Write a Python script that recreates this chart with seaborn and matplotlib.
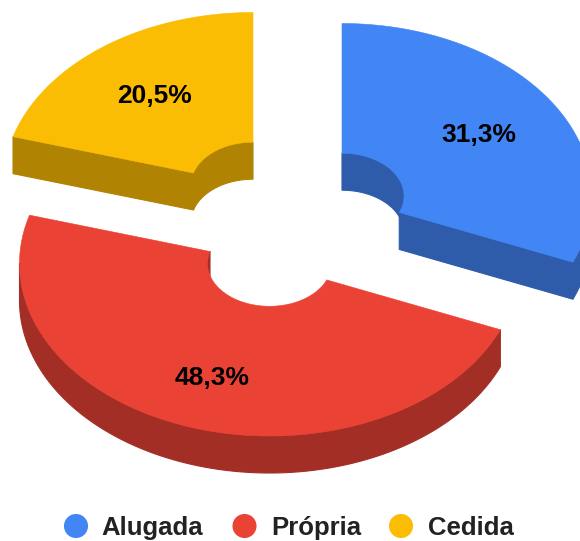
import matplotlib

matplotlib.use("Agg")
import matplotlib.pyplot as plt
import numpy as np
import seaborn as sns
from matplotlib.patches import Polygon

categories = ["Alugada", "Própria", "Cedida"]
values = [31.3, 48.3, 20.5]
colors = ["#4285F4", "#EA4335", "#FBBC04"]
side_colors = ["#2E5CAA", "#A32E25", "#B08402"]

WIDTH, HEIGHT = 580, 541
OUTER = 250
INNER = 62
SQUASH = 0.69
DEPTH = 37
label_radii = [165, 172, 165]
LABEL_SHIFT = 2.5
centers = [(342, 196), (269.5, 263.5), (253, 185)]
legend_dots = [76, 244.5, 401]
legend_text = [101, 271, 428]
LEGEND_Y = 526
LEGEND_BASELINE = 535

sns.set_theme(style="white")
plt.rcParams["font.family"] = ["Liberation Sans", "DejaVu Sans"]


def ring_pts(center, radius, a0, a1, drop=0):
    # angles in degrees, clockwise from the top
    t = np.radians(np.linspace(a0, a1, max(2, int(abs(a1 - a0) * 2))))
    x = center[0] + radius * np.sin(t)
    y = center[1] - radius * SQUASH * np.cos(t) + drop
    return np.column_stack([x, y])


def wall(ax, center, radius, a0, a1, color):
    if a1 <= a0:
        return
    top = ring_pts(center, radius, a0, a1)
    bottom = ring_pts(center, radius, a0, a1, DEPTH)
    ax.add_patch(Polygon(np.vstack([top, bottom[::-1]]), fc=color, ec=color, lw=0.8))


def cut_face(ax, center, angle, color):
    pts = np.vstack([
        ring_pts(center, INNER, angle, angle + 0.01),
        ring_pts(center, OUTER, angle, angle + 0.01),
    ])[[0, 2]]
    face = np.vstack([pts, pts[::-1] + [0, DEPTH]])
    ax.add_patch(Polygon(face, fc=color, ec=color, lw=0.8))


fig = plt.figure(figsize=(WIDTH / 100, HEIGHT / 100), dpi=100)
ax = fig.add_axes([0, 0, 1, 1])
ax.set_xlim(0, WIDTH)
ax.set_ylim(HEIGHT, 0)
ax.axis("off")

shares = np.array(values) / sum(values) * 360
starts = np.concatenate([[0], np.cumsum(shares)[:-1]])

for value, share, start, center, color, side, label_r in zip(
    values, shares, starts, centers, colors, side_colors, label_radii
):
    end = start + share
    # faces that look towards the viewer, back to front
    if np.cos(np.radians(end)) < 0 and np.sin(np.radians(end)) > 0:
        cut_face(ax, center, end, side)
    if np.cos(np.radians(start)) > 0 and np.sin(np.radians(start)) < 0:
        cut_face(ax, center, start, side)
    # inner wall shows on the far side of the hole, outer wall on the near side
    wall(ax, center, INNER, start, min(end, 90), side)
    wall(ax, center, INNER, max(start, 270), end, side)
    wall(ax, center, OUTER, max(start, 90), min(end, 270), side)
    outline = np.vstack([
        ring_pts(center, OUTER, start, end),
        ring_pts(center, INNER, start, end)[::-1],
    ])
    ax.add_patch(Polygon(outline, fc=color, ec=color, lw=0.4))
    mid = ring_pts(center, label_r, start + share / 2, start + share / 2 + 0.01)[0]
    ax.text(
        mid[0], mid[1] + LABEL_SHIFT, f"{value:.1f}%".replace(".", ","),
        ha="center", va="center", fontsize=19, fontweight="bold", color="black",
    )

sns.scatterplot(
    x=legend_dots,
    y=[LEGEND_Y] * len(categories),
    hue=categories,
    palette=colors,
    s=300,
    linewidth=0,
    legend=False,
    ax=ax,
)
for x, name in zip(legend_text, categories):
    ax.text(
        x, LEGEND_BASELINE, name, ha="left", va="baseline",
        fontsize=18.5, fontweight="bold", color="#222222",
    )

fig.savefig("out.png", dpi=100)
plt.close(fig)
